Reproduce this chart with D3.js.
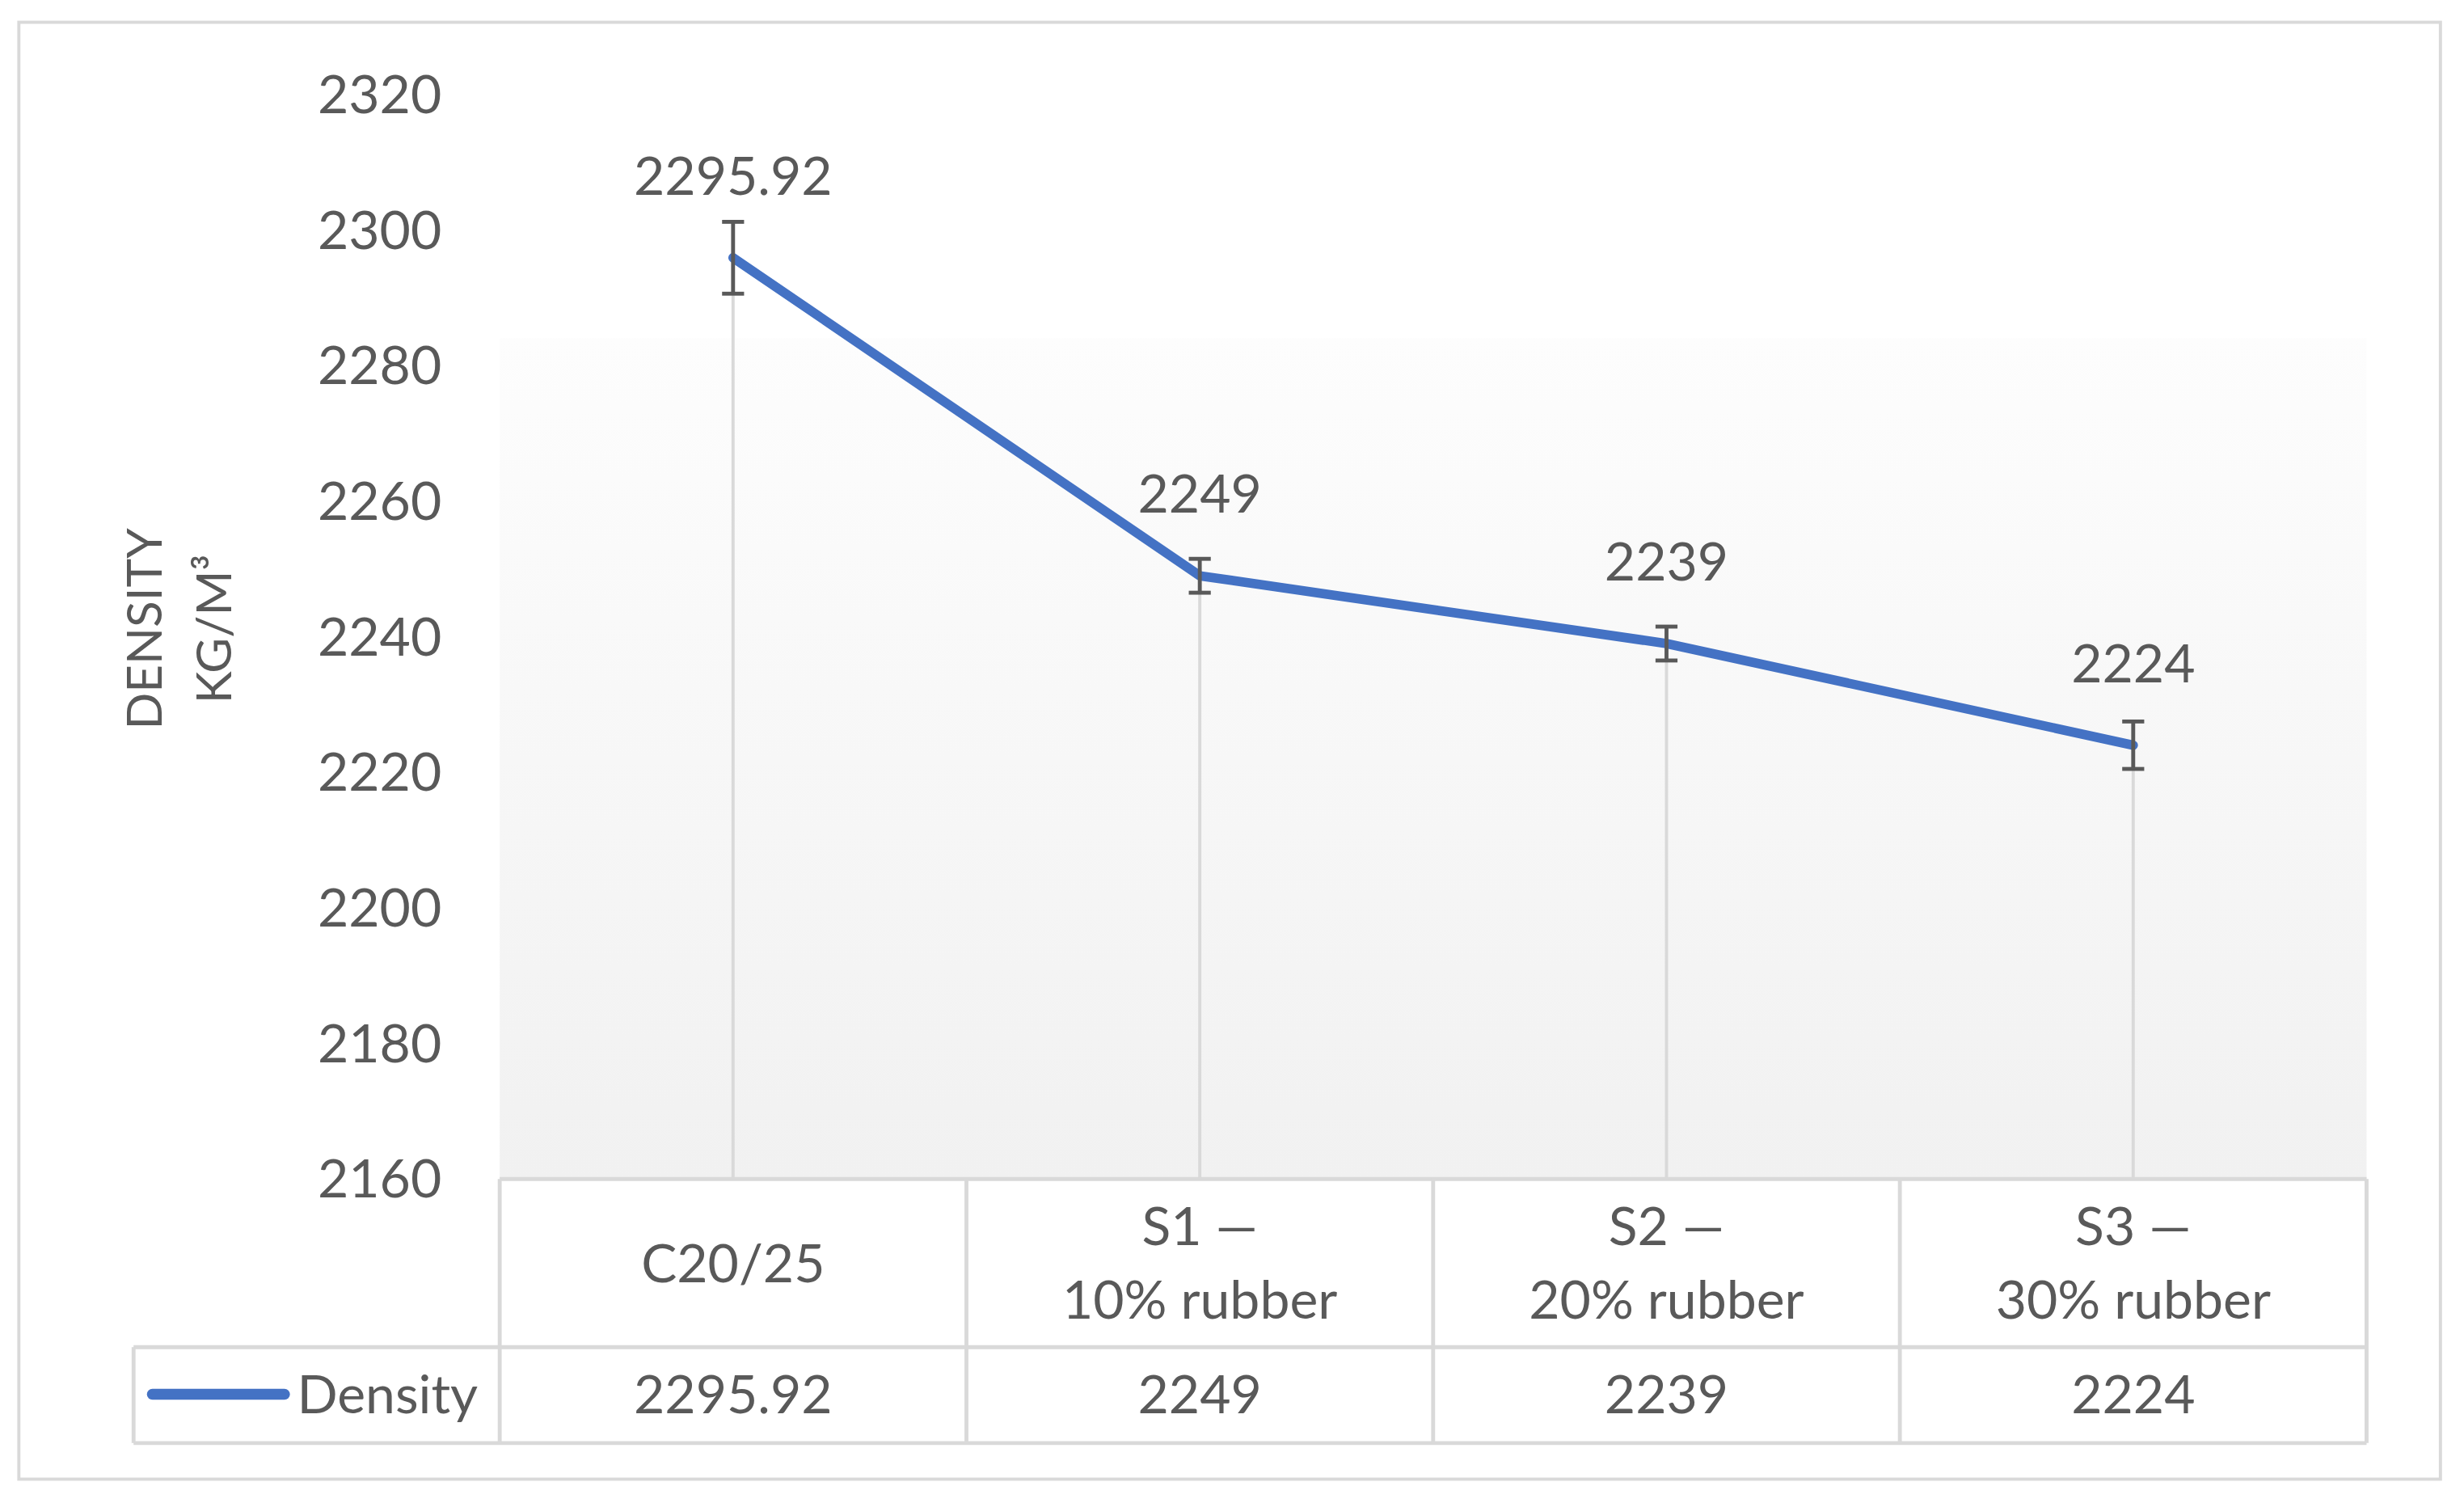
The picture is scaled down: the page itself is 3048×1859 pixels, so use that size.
<!DOCTYPE html>
<html><head><meta charset="utf-8">
<script src="https://cdn.jsdelivr.net/npm/d3@7"></script>
<style>body{margin:0;background:#fff}svg{display:block}</style>
</head><body>
<script>
const categories = [["C20/25"], ["S1 —", "10% rubber"], ["S2 —", "20% rubber"], ["S3 —", "30% rubber"]];
const tableLabels = ["2295.92", "2249", "2239", "2224"];
const values = [2295.92, 2249, 2239, 2224];
const errors = [5.3, 2.5, 2.5, 3.5];
const yTicks = [2160, 2180, 2200, 2220, 2240, 2260, 2280, 2300, 2320];
const seriesName = "Density";

const W = 1568, H = 956;
const svg = d3.select("body").append("svg")
  .attr("width", 3048).attr("height", 1859)
  .attr("viewBox", `0 0 ${W} ${H}`);
const font = "Lato, 'Open Sans', sans-serif";
const fs = 34;
const grey = "#595959", lineC = "#d9d9d9", blue = "#4472c4";

svg.append("rect").attr("x", 12).attr("y", 14).attr("width", 1541).attr("height", 927)
  .attr("fill", "#fff").attr("stroke", lineC).attr("stroke-width", 2);

const x = d3.scaleBand().domain(d3.range(categories.length)).range([318, 1506]);
const y = d3.scaleLinear().domain([2160, 2320]).range([750, 60]);

const defs = svg.append("defs");
const g = defs.append("linearGradient").attr("id", "bg").attr("x1", 0).attr("x2", 0).attr("y1", 0).attr("y2", 1);
g.append("stop").attr("offset", "0%").attr("stop-color", "#fdfdfd");
g.append("stop").attr("offset", "100%").attr("stop-color", "#f1f1f1");
svg.append("rect").attr("x", 318).attr("y", 215).attr("width", 1188).attr("height", 535).attr("fill", "url(#bg)");

svg.append("g").selectAll("text").data(yTicks).join("text")
  .attr("x", 281).attr("y", d => y(d)).attr("dy", "0.35em")
  .attr("text-anchor", "end").attr("font-family", font).attr("font-size", fs).attr("fill", grey)
  .text(d => d);

const at = svg.append("text").attr("transform", "translate(0,400) rotate(-90)")
  .attr("text-anchor", "middle").attr("font-family", font).attr("font-size", 31).attr("fill", grey);
at.append("tspan").attr("x", 0).attr("y", 103).text("DENSITY");
at.append("tspan").attr("x", 0).attr("y", 147).text("KG/M³");

const cx = i => x(i) + x.bandwidth() / 2;

svg.append("g").selectAll("line").data(values).join("line")
  .attr("x1", (d, i) => cx(i)).attr("x2", (d, i) => cx(i))
  .attr("y1", d => y(d)).attr("y2", 750).attr("stroke", lineC).attr("stroke-width", 2);

const tg = svg.append("g").attr("stroke", lineC).attr("stroke-width", 2.5).attr("fill", "none");
tg.append("line").attr("x1", 318).attr("x2", 1506).attr("y1", 750).attr("y2", 750);
tg.append("line").attr("x1", 85).attr("x2", 1506).attr("y1", 857).attr("y2", 857);
tg.append("line").attr("x1", 85).attr("x2", 1506).attr("y1", 918).attr("y2", 918);
tg.append("line").attr("x1", 85).attr("x2", 85).attr("y1", 857).attr("y2", 918);
d3.range(categories.length + 1).forEach(i => {
  const xx = i < categories.length ? x(i) : x.range()[1];
  tg.append("line").attr("x1", xx).attr("x2", xx).attr("y1", 750).attr("y2", 918);
});

const cat = svg.append("g").attr("font-family", font).attr("font-size", fs).attr("fill", grey).attr("text-anchor", "middle");
categories.forEach((c, i) => {
  c.forEach((t, j) => {
    const yy = c.length === 1 ? 804 : 780 + j * 47;
    cat.append("text").attr("x", cx(i)).attr("y", yy).attr("dy", "0.35em").text(t);
  });
  cat.append("text").attr("x", cx(i)).attr("y", 887).attr("dy", "0.35em").text(tableLabels[i]);
});
svg.append("line").attr("x1", 97).attr("x2", 181).attr("y1", 887).attr("y2", 887)
  .attr("stroke", blue).attr("stroke-width", 7).attr("stroke-linecap", "round");
svg.append("text").attr("x", 189).attr("y", 887).attr("dy", "0.35em").attr("font-family", font)
  .attr("font-size", fs).attr("fill", grey).text(seriesName);

svg.append("path").datum(values)
  .attr("d", d3.line().x((d, i) => cx(i)).y(d => y(d)))
  .attr("fill", "none").attr("stroke", blue).attr("stroke-width", 6).attr("stroke-linecap", "round").attr("stroke-linejoin", "round");

const eb = svg.append("g").attr("stroke", grey).attr("stroke-width", 2.5);
values.forEach((v, i) => {
  const X = cx(i);
  eb.append("line").attr("x1", X).attr("x2", X).attr("y1", y(v + errors[i])).attr("y2", y(v - errors[i]));
  [v + errors[i], v - errors[i]].forEach(e =>
    eb.append("line").attr("x1", X - 7).attr("x2", X + 7).attr("y1", y(e)).attr("y2", y(e)));
});

svg.append("g").selectAll("text").data(values).join("text")
  .attr("x", (d, i) => cx(i)).attr("y", d => y(d) - 52).attr("dy", "0.35em")
  .attr("text-anchor", "middle").attr("font-family", font).attr("font-size", fs).attr("fill", grey)
  .text((d, i) => tableLabels[i]);
</script>
</body></html>
